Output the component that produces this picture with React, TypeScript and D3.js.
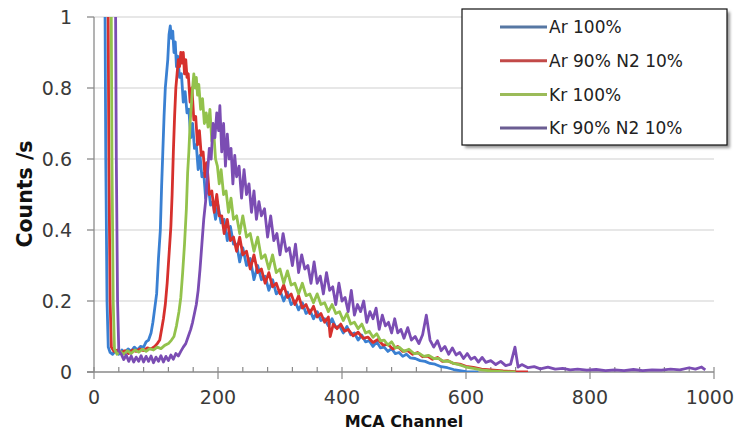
import React from "react";
import * as d3 from "d3";

type Pt = [number, number];

const SERIES_NAMES = ["Ar 100%", "Ar 90% N2 10%", "Kr 100%", "Kr 90% N2 10%"];
const LINE_COLORS = ["#3a80d2", "#d6302d", "#93c24c", "#7b4db3"];
const LEGEND_COLORS = ["#5677a3", "#c24a48", "#9bbb59", "#6b5d92"];
const X_TICKS = [0, 200, 400, 600, 800, 1000];
const Y_TICKS = [0, 0.2, 0.4, 0.6, 0.8, 1];

const AR100: Pt[] = [[14,1.6],[17,1.3],[19,0.6],[21,0.2],[23,0.07],[26,0.055],[30,0.05],[35,0.06],[40,0.05],[45,0.062],[50,0.055],[55,0.065],[60,0.058],[65,0.07],[70,0.062],[75,0.072],[80,0.07],[84,0.085],[88,0.09],[92,0.11],[95,0.14],[98,0.18],[101,0.22],[104,0.32],[107,0.4],[109,0.52],[111,0.62],[113,0.72],[115,0.8],[117,0.84],[119,0.88],[121,0.95],[123,0.975],[125,0.94],[127,0.96],[129,0.9],[131,0.93],[133,0.86],[135,0.89],[138,0.83],[141,0.84],[144,0.76],[147,0.79],[150,0.73],[153,0.74],[156,0.66],[159,0.7],[162,0.63],[165,0.64],[168,0.57],[171,0.61],[174,0.55],[177,0.56],[180,0.49],[184,0.53],[188,0.47],[192,0.48],[196,0.43],[200,0.47],[205,0.42],[210,0.43],[215,0.37],[220,0.41],[225,0.36],[230,0.36],[235,0.31],[240,0.35],[246,0.3],[252,0.32],[258,0.26],[264,0.3],[270,0.26],[276,0.27],[282,0.23],[288,0.26],[294,0.22],[300,0.23],[306,0.2],[312,0.225],[318,0.19],[324,0.2],[330,0.175],[336,0.195],[342,0.165],[348,0.175],[354,0.15],[360,0.17],[366,0.145],[372,0.15],[378,0.13],[384,0.15],[390,0.125],[396,0.13],[402,0.11],[408,0.128],[414,0.105],[420,0.11],[426,0.09],[432,0.104],[438,0.085],[444,0.088],[450,0.072],[456,0.085],[462,0.068],[468,0.07],[474,0.058],[480,0.066],[486,0.052],[492,0.055],[498,0.044],[504,0.05],[510,0.04],[518,0.038],[526,0.032],[534,0.03],[542,0.024],[550,0.022],[560,0.015],[570,0.012],[580,0.007],[590,0.004],[600,0.001],[620,0]];

const AR90N2: Pt[] = [[20,1.6],[22,1.3],[24,0.6],[26,0.2],[28,0.07],[32,0.058],[38,0.062],[44,0.055],[50,0.06],[56,0.052],[62,0.062],[68,0.058],[74,0.065],[80,0.06],[86,0.068],[92,0.065],[98,0.072],[102,0.08],[106,0.09],[109,0.12],[112,0.15],[115,0.19],[118,0.25],[121,0.33],[124,0.41],[126,0.5],[128,0.62],[130,0.72],[132,0.8],[134,0.84],[136,0.88],[138,0.86],[140,0.9],[142,0.87],[144,0.9],[146,0.84],[148,0.88],[150,0.83],[152,0.84],[155,0.76],[158,0.8],[161,0.71],[164,0.72],[167,0.64],[170,0.68],[173,0.61],[176,0.62],[179,0.55],[182,0.59],[186,0.5],[190,0.51],[194,0.45],[198,0.5],[202,0.44],[206,0.44],[210,0.39],[215,0.43],[220,0.37],[225,0.38],[230,0.34],[235,0.38],[240,0.33],[246,0.34],[252,0.29],[258,0.33],[264,0.28],[270,0.29],[276,0.25],[282,0.28],[288,0.24],[294,0.25],[300,0.22],[306,0.245],[312,0.21],[318,0.22],[324,0.19],[330,0.215],[336,0.18],[342,0.19],[348,0.165],[354,0.185],[360,0.155],[366,0.165],[372,0.14],[378,0.155],[381,0.1],[386,0.135],[392,0.122],[398,0.135],[404,0.115],[410,0.12],[418,0.102],[426,0.112],[434,0.095],[442,0.098],[450,0.083],[458,0.092],[466,0.076],[474,0.078],[482,0.065],[490,0.072],[498,0.058],[506,0.06],[514,0.05],[522,0.055],[530,0.043],[538,0.045],[546,0.036],[554,0.041],[562,0.03],[570,0.032],[580,0.024],[590,0.022],[600,0.016],[612,0.013],[625,0.008],[640,0.006],[660,0.003],[680,0.001],[700,0]];

const KR100: Pt[] = [[25,1.6],[27,1.3],[29,0.6],[31,0.2],[33,0.065],[37,0.05],[42,0.058],[48,0.05],[54,0.06],[60,0.052],[66,0.062],[72,0.056],[78,0.064],[84,0.058],[90,0.066],[96,0.062],[102,0.07],[108,0.066],[114,0.075],[120,0.08],[125,0.09],[129,0.1],[133,0.13],[137,0.17],[140,0.21],[143,0.28],[146,0.36],[149,0.46],[151,0.56],[153,0.62],[155,0.7],[157,0.75],[159,0.8],[161,0.84],[163,0.8],[165,0.83],[167,0.78],[169,0.81],[172,0.74],[175,0.77],[178,0.7],[181,0.73],[184,0.69],[187,0.74],[190,0.65],[193,0.68],[196,0.6],[199,0.58],[202,0.53],[205,0.57],[209,0.5],[213,0.51],[217,0.45],[221,0.49],[225,0.43],[230,0.44],[235,0.39],[240,0.44],[246,0.38],[252,0.39],[258,0.34],[264,0.38],[270,0.32],[276,0.33],[282,0.29],[288,0.33],[294,0.28],[300,0.29],[306,0.25],[312,0.285],[318,0.245],[324,0.25],[330,0.22],[336,0.25],[342,0.215],[348,0.22],[354,0.195],[360,0.22],[366,0.19],[372,0.195],[378,0.17],[384,0.19],[390,0.165],[396,0.17],[402,0.145],[408,0.165],[414,0.135],[420,0.14],[426,0.122],[432,0.135],[438,0.11],[444,0.115],[450,0.098],[456,0.108],[462,0.088],[468,0.09],[474,0.076],[480,0.085],[486,0.068],[492,0.07],[500,0.058],[508,0.064],[516,0.052],[524,0.053],[532,0.044],[540,0.047],[548,0.038],[556,0.038],[564,0.03],[572,0.031],[580,0.024],[590,0.02],[600,0.014],[612,0.01],[625,0.006],[640,0.003],[660,0.001],[680,0]];

const KR90N2: Pt[] = [[32,1.6],[34,1.3],[36,0.6],[38,0.2],[40,0.06],[44,0.05],[48,0.035],[52,0.048],[56,0.03],[60,0.045],[64,0.028],[68,0.042],[72,0.03],[76,0.046],[80,0.028],[84,0.044],[88,0.03],[92,0.045],[96,0.026],[100,0.042],[104,0.03],[108,0.046],[112,0.028],[116,0.044],[120,0.032],[124,0.048],[128,0.036],[132,0.052],[136,0.045],[140,0.058],[144,0.07],[148,0.08],[152,0.1],[156,0.12],[159,0.14],[162,0.165],[165,0.19],[168,0.23],[171,0.29],[174,0.36],[177,0.43],[180,0.48],[183,0.56],[186,0.63],[189,0.6],[192,0.7],[195,0.66],[198,0.73],[201,0.68],[203,0.75],[206,0.62],[209,0.7],[212,0.58],[215,0.67],[218,0.6],[221,0.63],[224,0.53],[227,0.61],[230,0.55],[234,0.58],[238,0.49],[242,0.57],[246,0.5],[250,0.53],[254,0.45],[258,0.51],[262,0.43],[266,0.48],[270,0.44],[275,0.46],[280,0.38],[285,0.44],[290,0.37],[295,0.39],[300,0.33],[305,0.39],[310,0.34],[315,0.35],[320,0.3],[325,0.36],[330,0.28],[335,0.33],[340,0.29],[345,0.3],[350,0.25],[355,0.31],[360,0.25],[365,0.27],[370,0.22],[375,0.28],[380,0.23],[385,0.24],[390,0.19],[395,0.25],[400,0.2],[405,0.21],[410,0.17],[415,0.23],[420,0.16],[425,0.19],[430,0.17],[435,0.2],[440,0.14],[445,0.17],[450,0.15],[455,0.18],[460,0.12],[465,0.16],[470,0.13],[475,0.14],[480,0.11],[485,0.15],[490,0.11],[495,0.12],[500,0.095],[506,0.125],[512,0.09],[518,0.1],[524,0.08],[530,0.105],[536,0.16],[542,0.09],[548,0.07],[554,0.088],[560,0.06],[566,0.072],[572,0.05],[578,0.068],[584,0.048],[590,0.055],[596,0.038],[602,0.052],[608,0.036],[614,0.042],[620,0.028],[626,0.041],[632,0.027],[640,0.032],[648,0.021],[656,0.03],[664,0.018],[672,0.022],[679,0.07],[684,0.014],[690,0.021],[700,0.012],[710,0.015],[720,0.009],[732,0.014],[744,0.008],[756,0.01],[768,0.006],[780,0.008],[795,0.005],[810,0.007],[825,0.004],[840,0.006],[855,0.004],[870,0.007],[885,0.004],[900,0.006],[915,0.005],[930,0.008],[945,0.006],[960,0.012],[970,0.008],[980,0.014],[986,0.006]];

const SERIES: Pt[][] = [AR100, AR90N2, KR100, KR90N2];

const W = 736;
const H = 433;
const M = { left: 94, right: 714, top: 17, bottom: 372 };

export default function App() {
  const x = d3.scaleLinear().domain([0, 1000]).range([M.left, M.right]);
  const y = d3.scaleLinear().domain([0, 1]).range([M.bottom, M.top]);
  const line = d3
    .line<Pt>()
    .x((d) => x(d[0]))
    .y((d) => y(d[1]));
  const minorTicks = d3.range(0, 1001, 40);
  const font = "'DejaVu Sans', Verdana, sans-serif";

  return (
    <svg
      width={W}
      height={H}
      style={{ position: "absolute", left: 0, top: 0, background: "#fff" }}
      fontFamily={font}
    >
      <defs>
        <clipPath id="plot">
          <rect x={M.left} y={M.top} width={M.right - M.left + 2} height={M.bottom - M.top} />
        </clipPath>
        <filter id="shadow" x="-10%" y="-10%" width="130%" height="130%">
          <feGaussianBlur stdDeviation="1.5" />
        </filter>
      </defs>
      <rect x={0} y={0} width={W} height={H} fill="#fff" />
      {Y_TICKS.filter((t) => t > 0).map((t) => (
        <line key={t} x1={M.left} x2={M.right} y1={y(t)} y2={y(t)} stroke="#cfcfcf" strokeWidth={1.2} />
      ))}
      <line x1={M.left} x2={M.left} y1={M.top} y2={M.bottom} stroke="#8a8a8a" strokeWidth={1.3} />
      <line x1={M.left - 7} x2={M.right} y1={M.bottom} y2={M.bottom} stroke="#8a8a8a" strokeWidth={1.3} />
      {Y_TICKS.map((t) => (
        <line key={t} x1={M.left - 7} x2={M.left} y1={y(t)} y2={y(t)} stroke="#8a8a8a" strokeWidth={1.3} />
      ))}
      {minorTicks.map((t) => (
        <line
          key={t}
          x1={x(t)}
          x2={x(t)}
          y1={M.bottom - 5}
          y2={t % 200 === 0 ? M.bottom + 7 : M.bottom}
          stroke="#8a8a8a"
          strokeWidth={1.2}
        />
      ))}
      {Y_TICKS.map((t) => (
        <text key={t} x={72} y={y(t)} dy="0.36em" textAnchor="end" fontSize={19} fill="#3a3a3a">
          {d3.format("~g")(t)}
        </text>
      ))}
      {X_TICKS.map((t, i) => {
        const last = i === X_TICKS.length - 1;
        return (
          <text
            key={t}
            x={last ? 734 : x(t)}
            y={404}
            textAnchor={last ? "end" : "middle"}
            fontSize={19}
            fill="#3a3a3a"
          >
            {t}
          </text>
        );
      })}
      <text x={404} y={427} textAnchor="middle" fontSize={16} fontWeight="bold" fill="#111">
        MCA Channel
      </text>
      <text
        transform={`translate(32,194) rotate(-90)`}
        textAnchor="middle"
        fontSize={20.5}
        fontWeight="bold"
        fill="#111"
      >
        Counts /s
      </text>
      <g clipPath="url(#plot)">
        {SERIES.map((s, i) => (
          <path
            key={i}
            d={line(s) || ""}
            fill="none"
            stroke={LINE_COLORS[i]}
            strokeWidth={2.8}
            strokeLinejoin="round"
          />
        ))}
      </g>
      <rect x={465} y={12} width={265} height={136} fill="#999" filter="url(#shadow)" />
      <rect x={462} y={9} width={265} height={136} fill="#fff" stroke="#111" strokeWidth={1.2} />
      {SERIES_NAMES.map((name, i) => {
        const cy = 27 + i * 33.7;
        return (
          <g key={name}>
            <line x1={500} x2={547} y1={cy} y2={cy} stroke={LEGEND_COLORS[i]} strokeWidth={3} />
            <text x={549} y={cy} dy="0.36em" fontSize={17} fill="#222">
              {name}
            </text>
          </g>
        );
      })}
    </svg>
  );
}
